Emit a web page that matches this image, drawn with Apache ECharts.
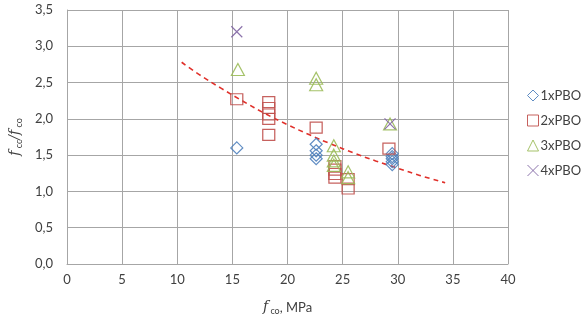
<!DOCTYPE html>
<html>
<head>
<meta charset="utf-8">
<script src="https://cdn.jsdelivr.net/npm/echarts@6/dist/echarts.min.js"></script>
<style>
  html, body { margin: 0; padding: 0; background: #fff; }
  #chart { width: 588px; height: 323px; }
</style>
</head>
<body>
<div id="chart"></div>
<script>
// Confinement ratio fcc/fco against unconfined strength fco, by number of PBO layers
const seriesNames = ['1xPBO', '2xPBO', '3xPBO', '4xPBO'];

const pbo1 = [
  [15.4, 1.60],
  [22.6, 1.65], [22.6, 1.56], [22.6, 1.50], [22.6, 1.45],
  [29.5, 1.52], [29.5, 1.48], [29.5, 1.45], [29.5, 1.41], [29.5, 1.37]
];
const pbo2 = [
  [15.4, 2.27],
  [18.3, 2.23], [18.3, 2.15], [18.3, 2.06], [18.3, 2.00], [18.3, 1.78],
  [22.6, 1.88],
  [24.3, 1.35], [24.3, 1.30], [24.3, 1.24], [24.3, 1.19],
  [25.5, 1.17], [25.5, 1.04],
  [29.2, 1.59]
];
const pbo3 = [
  [15.5, 2.68],
  [22.6, 2.56], [22.6, 2.47],
  [24.2, 1.63], [24.2, 1.50], [24.2, 1.42], [24.2, 1.36],
  [25.5, 1.27], [25.5, 1.19],
  [29.3, 1.93]
];
const pbo4 = [
  [15.4, 3.20],
  [29.3, 1.93]
];
// Fitted trend curve, read along its length
const trend = [
  [10.4, 2.78], [12, 2.61], [14, 2.42], [16, 2.24], [18, 2.07], [20, 1.92],
  [22, 1.78], [24, 1.65], [26, 1.53], [28, 1.42], [30, 1.32], [32, 1.22], [34.3, 1.12]
];

const xTicks = { min: 0, max: 40, interval: 5 };
const yTicks = { min: 0, max: 3.5, interval: 0.5 };

const colors = ['#4F81BD', '#C0504D', '#9BBB59', '#8064A2'];
const symbols = ['diamond', 'rect', 'triangle', 'path://M0,0L10,10M10,0L0,10'];
const sizes = [[12, 12], [12, 11], [13, 12], [11, 11]];
const seriesData = [pbo1, pbo2, pbo3, pbo4];

const font = 'Lato, "Open Sans", sans-serif';
const textColor = '#404040';
const gridColor = '#a6a6a6';

const chart = echarts.init(document.getElementById('chart'), null, { renderer: 'canvas' });

const scatterSeries = seriesNames.map((name, i) => ({
  name,
  type: 'scatter',
  data: seriesData[i],
  symbol: symbols[i],
  symbolSize: sizes[i],
  itemStyle: { color: 'rgba(255,255,255,0)', borderColor: colors[i], borderWidth: 1.2, opacity: 0.9 },
  emphasis: { disabled: true },
  z: 3
}));

chart.setOption({
  animation: false,
  textStyle: { fontFamily: font },
  grid: { left: 67, right: 80, top: 10, bottom: 59, containLabel: false },
  legend: {
    orient: 'vertical',
    left: 522,
    top: 84,
    itemGap: 12,
    itemWidth: 11,
    itemHeight: 11,
    data: seriesNames.map((n, i) => ({ name: n, icon: symbols[i] })),
    itemStyle: { borderWidth: 1 },
    textStyle: { fontFamily: font, fontSize: 13, color: textColor, padding: [0, 0, 0, -3] }
  },
  xAxis: {
    type: 'value',
    min: xTicks.min, max: xTicks.max, interval: xTicks.interval,
    axisLine: { show: true, lineStyle: { color: gridColor } },
    axisTick: { show: false },
    splitLine: { show: true, lineStyle: { color: gridColor, width: 1 } },
    axisLabel: { color: textColor, fontSize: 13, margin: 9, fontFamily: font },
    name: '{f|f}{s| co}{t|, MPa}',
    nameLocation: 'middle',
    nameGap: 35,
    nameTextStyle: {
      rich: {
        f: { fontStyle: 'italic', fontFamily: '"DejaVu Serif", serif', fontSize: 14, color: textColor },
        s: { fontSize: 9, color: textColor, fontFamily: font, padding: [8, 0, 0, 0] },
        t: { fontSize: 13, color: textColor, fontFamily: font }
      }
    }
  },
  yAxis: {
    type: 'value',
    min: yTicks.min, max: yTicks.max, interval: yTicks.interval,
    axisLine: { show: true, lineStyle: { color: gridColor } },
    axisTick: { show: false },
    splitLine: { show: true, lineStyle: { color: gridColor, width: 1 } },
    axisLabel: {
      color: textColor, fontSize: 13, margin: 14, fontFamily: font,
      formatter: v => v.toFixed(1).replace('.', ',')
    },
    name: '{f|f}{s| cc}{f|/f}{s| co}',
    nameLocation: 'middle',
    nameRotate: 90,
    nameGap: 42,
    nameTextStyle: {
      rich: {
        f: { fontStyle: 'italic', fontFamily: '"DejaVu Serif", serif', fontSize: 14, color: textColor },
        s: { fontSize: 9, color: textColor, fontFamily: font, padding: [8, 0, 0, 0] }
      }
    }
  },
  series: [
    ...scatterSeries,
    {
      name: 'trend',
      type: 'line',
      data: trend,
      smooth: true,
      symbol: 'none',
      lineStyle: { color: '#E0302A', width: 1.6, type: [5, 4] },
      emphasis: { disabled: true },
      z: 2
    }
  ]
});
</script>
</body>
</html>
